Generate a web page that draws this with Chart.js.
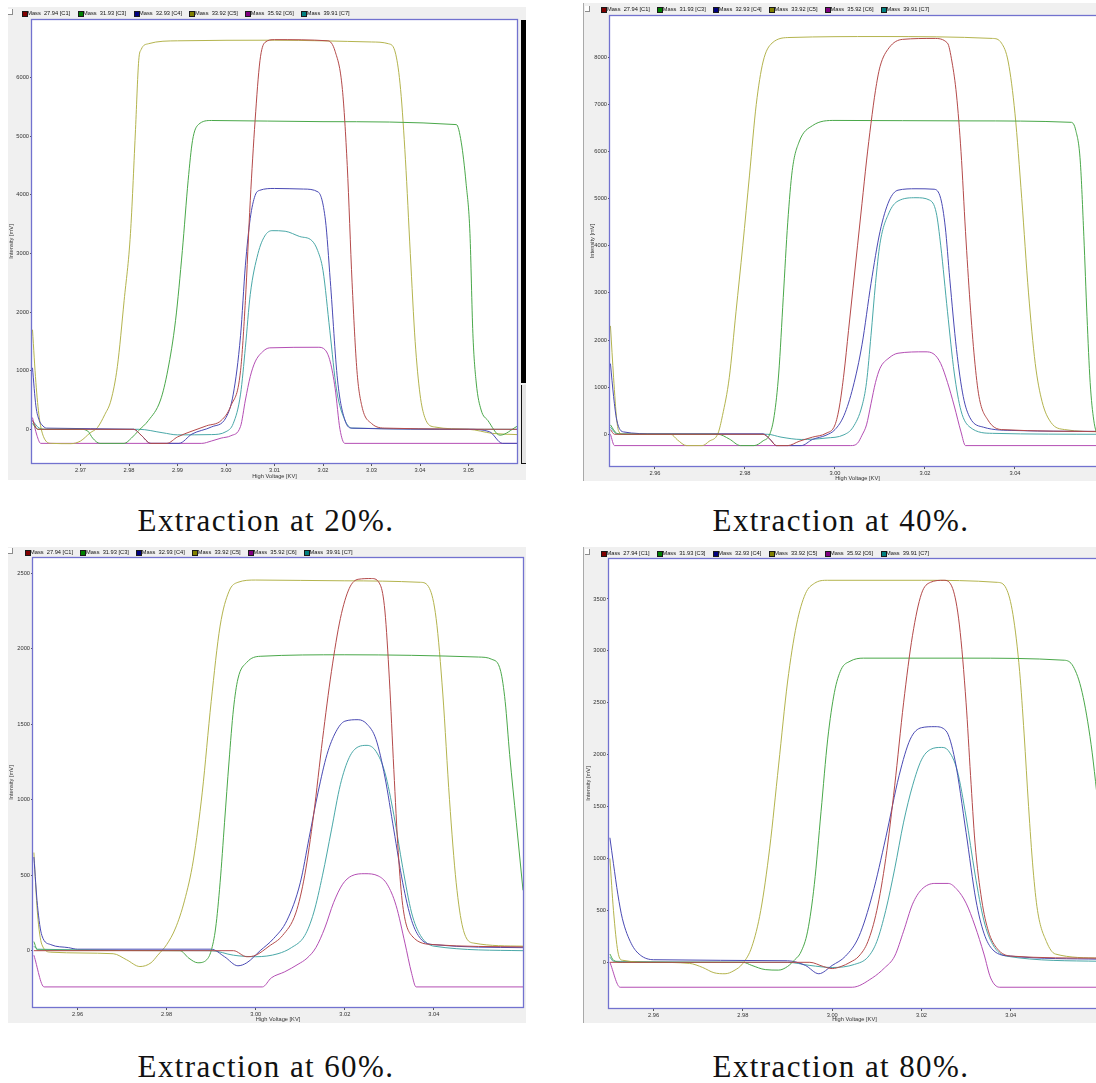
<!DOCTYPE html>
<html>
<head>
<meta charset="utf-8">
<script src="https://cdn.jsdelivr.net/npm/chart.js@4.4.1/dist/chart.umd.min.js"></script>
<style>
  html, body { margin:0; padding:0; background:#fff; }
  body { width:1096px; height:1083px; overflow:hidden; position:relative; font-family:"Liberation Sans", Arial, sans-serif; }
  .panel { position:absolute; overflow:hidden; background:#f0f0f0; box-sizing:border-box; }
  .panel.edge { border-left:1px solid #a9a9a9; }
  .panel canvas { position:absolute; left:0; top:0; }
  .check { position:absolute; width:4px; height:5px; background:#fff; border-right:1px solid #8c8c8c; border-bottom:1px solid #8c8c8c; }
  .item { position:absolute; height:6px; line-height:6px; font-size:5.7px; color:#111; white-space:pre; }
  .item i { position:absolute; left:0; top:0.5px; width:4px; height:4px; border:0.6px solid #1a1a1a; }
  .item span { position:absolute; left:5.5px; top:0; }
  .caption { position:absolute; font-family:"Liberation Serif", "Times New Roman", serif; font-size:31px; line-height:31px; letter-spacing:1.4px; color:#111; white-space:nowrap; transform:translateX(-50%); }
  .scroll { position:absolute; background:#000; }
  .scrollbox { position:absolute; background:#e4e4e4; border-left:1.5px solid #111; border-bottom:1px solid #111; box-sizing:border-box; }
</style>
</head>
<body>
<script>
// ---- legend / series identity ----
const seriesNames = ['Mass  27.94 [C1]', 'Mass  31.93 [C3]', 'Mass  32.93 [C4]', 'Mass  33.92 [C5]', 'Mass  35.92 [C6]', 'Mass  39.91 [C7]'];
const swatchColors = ['#800000', '#008000', '#000080', '#808000', '#800080', '#008080'];
const traceColors  = ['#b44a4a', '#4aa84a', '#4a4ab4', '#b4b44e', '#b44eb4', '#4aa8a8'];
const captions = ['Extraction at 20%.', 'Extraction at 40%.', 'Extraction at 60%.', 'Extraction at 80%.'];

// ---- tick labels ----
const xTicks20 = [2.97, 2.98, 2.99, 3.00, 3.01, 3.02, 3.03, 3.04, 3.05];
const xTicksWide = [2.96, 2.98, 3.00, 3.02, 3.04];
const yTicks20 = [0, 1000, 2000, 3000, 4000, 5000, 6000];
const yTicks40 = [0, 1000, 2000, 3000, 4000, 5000, 6000, 7000, 8000];
const yTicks60 = [0, 500, 1000, 1500, 2000, 2500];
const yTicks80 = [0, 500, 1000, 1500, 2000, 2500, 3000, 3500];

// ---- traces: [high voltage kV, intensity mV] ----
// extraction 20 %
const c1At20 = [[2.9601,150],[2.9612,0],[2.981,0],[2.9825,-100],[2.9845,-240],[2.9878,-240],[2.990,-130],[2.993,-30],[2.996,60],[2.999,150],[3.001,400],[3.003,1000],[3.004,2200],[3.005,3900],[3.006,5270],[3.007,6290],[3.008,6600],[3.010,6650],[3.021,6630],[3.0225,6450],[3.024,5800],[3.025,4500],[3.026,2500],[3.027,1000],[3.028,400],[3.030,100],[3.033,20],[3.06,0]];
const c3At20 = [[2.9601,100],[2.9612,0],[2.970,0],[2.9715,-30],[2.9725,-150],[2.974,-240],[2.979,-240],[2.9805,-150],[2.982,-20],[2.984,150],[2.9865,500],[2.988,1010],[2.9896,1860],[2.991,3050],[2.9922,4250],[2.9931,4930],[2.9943,5200],[2.997,5270],[3.02,5250],[3.0475,5200],[3.0485,4900],[3.0495,4200],[3.0503,3340],[3.0509,1640],[3.0516,790],[3.0526,330],[3.054,150],[3.0565,-100],[3.06,50]];
const c4At20 = [[2.9601,1050],[2.9608,400],[2.9615,150],[2.962,80],[2.963,20],[2.981,0],[2.9825,-100],[2.9845,-240],[2.9903,-240],[2.993,-80],[2.997,40],[3.000,200],[3.0015,600],[3.003,1600],[3.004,2800],[3.005,3600],[3.006,3990],[3.007,4080],[3.010,4110],[3.016,4100],[3.019,4050],[3.0205,3570],[3.0215,2540],[3.023,840],[3.0245,160],[3.026,20],[3.050,0],[3.0543,-40],[3.057,-240],[3.06,-240]];
const c5At20 = [[2.9601,1700],[2.9608,800],[2.9615,200],[2.9625,-150],[2.964,-240],[2.968,-245],[2.970,-200],[2.972,-60],[2.9735,30],[2.975,250],[2.9763,500],[2.9776,1070],[2.979,2200],[2.9803,3340],[2.9813,5040],[2.982,6290],[2.9825,6480],[2.984,6580],[2.990,6630],[3.010,6640],[3.030,6610],[3.0335,6580],[3.035,6400],[3.036,5800],[3.037,4600],[3.038,3000],[3.039,1500],[3.040,600],[3.041,200],[3.043,40],[3.050,0],[3.055,-70],[3.06,-90]];
const c6At20 = [[2.9601,200],[2.961,-100],[2.9618,-240],[2.995,-240],[2.997,-200],[2.999,-150],[3.001,-110],[3.003,50],[3.004,500],[3.005,900],[3.006,1150],[3.0075,1320],[3.009,1390],[3.019,1400],[3.0205,1350],[3.0215,1150],[3.0225,700],[3.0235,0],[3.0245,-240],[3.06,-240]];
const c7At20 = [[2.9601,150],[2.9615,20],[2.963,0],[2.982,0],[2.987,-60],[2.990,-95],[2.997,-90],[3.000,-40],[3.0015,100],[3.003,600],[3.004,1400],[3.005,2300],[3.0066,3000],[3.008,3300],[3.0095,3390],[3.0122,3380],[3.0152,3290],[3.0177,3220],[3.0189,3050],[3.020,2710],[3.0214,1690],[3.0228,670],[3.0245,160],[3.026,20],[3.06,0]];

// extraction 40 %
const c1At40 = [[2.9501,100],[2.951,0],[2.984,0],[2.9855,-100],[2.987,-240],[2.9895,-240],[2.992,-150],[2.995,-60],[2.998,20],[3.000,200],[3.001,600],[3.002,1300],[3.003,2200],[3.004,3100],[3.005,4000],[3.006,4900],[3.007,5800],[3.008,6600],[3.009,7300],[3.010,7800],[3.012,8200],[3.015,8380],[3.022,8400],[3.025,8300],[3.026,7900],[3.027,7200],[3.028,6000],[3.029,4300],[3.030,2800],[3.031,1600],[3.032,800],[3.034,300],[3.037,100],[3.06,60]];
const c3At40 = [[2.9501,200],[2.9515,20],[2.953,0],[2.974,0],[2.9765,-100],[2.979,-240],[2.982,-240],[2.984,-140],[2.9855,0],[2.9865,400],[2.9875,1300],[2.9885,2900],[2.9895,4500],[2.9905,5600],[2.992,6200],[2.995,6550],[3.000,6660],[3.030,6650],[3.0525,6620],[3.0535,6450],[3.0545,5800],[3.0553,4200],[3.056,2500],[3.0567,1100],[3.0575,300],[3.0585,-60],[3.06,-230]];
const c4At40 = [[2.9501,1500],[2.9508,800],[2.9515,300],[2.953,50],[2.960,10],[2.984,10],[2.9855,-100],[2.987,-240],[2.9925,-240],[2.995,-110],[2.998,-20],[3.000,100],[3.002,400],[3.004,1000],[3.006,1900],[3.008,3200],[3.010,4300],[3.012,4950],[3.014,5180],[3.018,5210],[3.022,5200],[3.0235,5000],[3.0245,4400],[3.0255,3300],[3.027,1800],[3.0285,800],[3.030,350],[3.033,150],[3.040,80],[3.06,60]];
const c5At40 = [[2.9501,2300],[2.9508,1200],[2.9515,300],[2.952,50],[2.953,0],[2.9635,0],[2.965,-120],[2.967,-240],[2.9705,-240],[2.972,-150],[2.974,20],[2.975,400],[2.9765,1200],[2.978,2600],[2.9795,4000],[2.981,5500],[2.9825,7000],[2.984,7900],[2.986,8300],[2.990,8420],[3.010,8440],[3.035,8400],[3.037,8300],[3.0385,7900],[3.040,6800],[3.0415,5000],[3.043,3000],[3.0445,1500],[3.046,700],[3.048,250],[3.051,100],[3.06,50]];
const c6At40 = [[2.9501,0],[2.951,-240],[3.0035,-240],[3.005,-190],[3.006,-20],[3.007,200],[3.008,650],[3.009,1100],[3.010,1400],[3.012,1620],[3.014,1720],[3.020,1750],[3.022,1700],[3.0235,1500],[3.025,1100],[3.0265,600],[3.028,50],[3.029,-240],[3.06,-240]];
const c7At40 = [[2.9501,150],[2.9515,10],[2.985,0],[2.988,-60],[2.9925,-110],[2.998,-80],[3.002,-10],[3.004,150],[3.006,600],[3.007,1100],[3.008,2100],[3.009,3200],[3.010,4050],[3.012,4700],[3.014,4950],[3.018,5020],[3.021,4970],[3.0225,4700],[3.0235,4000],[3.025,2600],[3.0265,1300],[3.028,500],[3.030,150],[3.035,20],[3.06,0]];

// extraction 60 %
const c1At60 = [[2.9502,0],[2.995,0],[2.998,-40],[3.000,-30],[3.003,30],[3.006,100],[3.009,250],[3.011,500],[3.013,900],[3.015,1400],[3.017,1850],[3.019,2200],[3.021,2400],[3.023,2460],[3.026,2465],[3.028,2420],[3.029,2250],[3.030,1800],[3.031,1200],[3.032,650],[3.033,300],[3.035,100],[3.040,40],[3.06,25]];
const c3At60 = [[2.9502,60],[2.951,5],[2.983,0],[2.985,-50],[2.987,-80],[2.989,-60],[2.990,0],[2.991,150],[2.992,450],[2.993,850],[2.994,1250],[2.995,1600],[2.996,1800],[2.998,1910],[3.001,1950],[3.020,1960],[3.050,1945],[3.053,1930],[3.055,1850],[3.056,1650],[3.057,1300],[3.0585,850],[3.06,400]];
const c4At60 = [[2.9502,620],[2.951,300],[2.952,100],[2.954,40],[2.958,20],[2.960,10],[2.990,10],[2.993,-40],[2.996,-100],[2.998,-80],[3.001,0],[3.004,80],[3.007,200],[3.010,450],[3.012,750],[3.014,1050],[3.016,1300],[3.018,1450],[3.020,1520],[3.023,1530],[3.025,1500],[3.027,1400],[3.029,1150],[3.031,800],[3.033,450],[3.035,200],[3.037,80],[3.040,40],[3.06,20]];
const c5At60 = [[2.9502,650],[2.951,250],[2.952,40],[2.954,-10],[2.968,-20],[2.971,-60],[2.974,-105],[2.9765,-80],[2.978,-30],[2.980,40],[2.982,150],[2.984,330],[2.986,600],[2.988,1050],[2.990,1650],[2.992,2150],[2.994,2380],[2.996,2440],[3.000,2455],[3.020,2450],[3.037,2440],[3.039,2400],[3.0405,2200],[3.042,1700],[3.0435,1000],[3.045,450],[3.0465,150],[3.049,50],[3.06,30]];
const c6At60 = [[2.9502,-30],[2.9525,-240],[3.0015,-240],[3.0035,-180],[3.0065,-140],[3.0095,-90],[3.0115,-50],[3.0135,20],[3.0155,150],[3.0175,320],[3.0195,440],[3.0215,495],[3.0245,510],[3.0275,495],[3.0295,440],[3.0315,300],[3.0335,50],[3.035,-150],[3.036,-240],[3.06,-240]];
const c7At60 = [[2.9502,30],[2.951,10],[2.990,0],[2.995,-30],[3.000,-40],[3.005,-20],[3.008,20],[3.011,100],[3.013,250],[3.015,500],[3.017,800],[3.019,1100],[3.021,1280],[3.023,1350],[3.025,1360],[3.027,1320],[3.029,1180],[3.031,900],[3.033,550],[3.035,250],[3.037,100],[3.040,30],[3.06,0]];

// extraction 80 %
const c1At80 = [[2.9502,0],[2.995,0],[2.998,-40],[3.000,-60],[3.002,-40],[3.004,0],[3.006,60],[3.008,200],[3.010,500],[3.012,1000],[3.014,1700],[3.016,2500],[3.018,3150],[3.020,3550],[3.022,3660],[3.025,3680],[3.027,3600],[3.0285,3250],[3.030,2500],[3.031,1800],[3.032,1150],[3.0335,600],[3.035,300],[3.037,130],[3.040,60],[3.06,40]];
const c3At80 = [[2.9502,80],[2.951,20],[2.953,0],[2.980,0],[2.982,-30],[2.985,-70],[2.988,-75],[2.990,-40],[2.9915,20],[2.993,100],[2.9945,300],[2.996,750],[2.9975,1450],[2.999,2150],[3.0005,2600],[3.002,2820],[3.004,2900],[3.007,2930],[3.030,2930],[3.052,2910],[3.054,2850],[3.056,2600],[3.058,2100],[3.06,1350]];
const c4At80 = [[2.9502,1200],[2.951,950],[2.952,650],[2.953,420],[2.955,180],[2.957,70],[2.960,25],[2.990,15],[2.994,-30],[2.997,-110],[3.000,-30],[3.003,60],[3.006,250],[3.009,650],[3.012,1200],[3.015,1800],[3.0175,2150],[3.020,2260],[3.023,2270],[3.0255,2230],[3.0275,1950],[3.030,1250],[3.0322,600],[3.034,280],[3.036,120],[3.040,60],[3.06,30]];
const c5At80 = [[2.9502,1000],[2.951,500],[2.952,100],[2.953,20],[2.960,0],[2.968,-10],[2.971,-50],[2.9735,-100],[2.976,-110],[2.978,-80],[2.980,-10],[2.982,150],[2.984,500],[2.986,1100],[2.988,1900],[2.990,2700],[2.992,3250],[2.994,3550],[2.996,3650],[2.999,3680],[3.020,3680],[3.037,3660],[3.039,3600],[3.0405,3350],[3.042,2800],[3.043,2200],[3.044,1500],[3.045,900],[3.046,500],[3.048,200],[3.050,80],[3.06,40]];
const c6At80 = [[2.9502,0],[2.9525,-240],[3.0045,-240],[3.009,-150],[3.0117,-55],[3.014,60],[3.016,300],[3.018,560],[3.020,700],[3.023,760],[3.026,760],[3.028,700],[3.030,570],[3.032,350],[3.034,80],[3.0355,-150],[3.0375,-240],[3.06,-240]];
const c7At80 = [[2.9502,50],[2.951,10],[2.990,0],[2.995,-30],[3.000,-50],[3.005,-20],[3.008,50],[3.010,200],[3.012,500],[3.014,900],[3.016,1350],[3.018,1700],[3.020,1950],[3.022,2050],[3.0245,2070],[3.026,2040],[3.028,1850],[3.030,1400],[3.032,850],[3.034,400],[3.036,170],[3.039,60],[3.06,10]];

// ---- panel geometry (page pixels) ----
const panels = [
  { traces:[c1At20,c3At20,c4At20,c5At20,c6At20,c7At20], xMin:2.96, xMax:3.06, yMin:-575, yMax:6985, xTicks:xTicks20, yTicks:yTicks20,
    box:{left:8, top:7, width:518, height:473}, edge:false, cw:518, ch:473, pad:{left:0, top:13, right:9, bottom:0}, yW:24, xH:17, yTitlePad:0,
    check:{x:0, y:2}, legendX:13.7, legendY:3.3, legendDx:55.9, caption:{x:266, top:505} },
  { traces:[c1At40,c3At40,c4At40,c5At40,c6At40,c7At40], xMin:2.95, xMax:3.06, yMin:-673, yMax:8876, xTicks:xTicksWide, yTicks:yTicks40,
    box:{left:583, top:3, width:513, height:478}, edge:true, cw:530, ch:490, pad:{left:0, top:13, right:9, bottom:11}, yW:26, xH:16, yTitlePad:5,
    check:{x:1, y:3}, legendX:17.4, legendY:3.3, legendDx:55.9, caption:{x:841, top:505} },
  { traces:[c1At60,c3At60,c4At60,c5At60,c6At60,c7At60], xMin:2.95, xMax:3.06, yMin:-373, yMax:2601, xTicks:xTicksWide, yTicks:yTicks60,
    box:{left:8, top:547, width:518, height:476}, edge:false, cw:518, ch:476, pad:{left:0, top:11, right:3, bottom:0}, yW:25, xH:16, yTitlePad:0,
    check:{x:0, y:1}, legendX:16.5, legendY:2.4, legendDx:55.9, caption:{x:266, top:1051} },
  { traces:[c1At80,c3At80,c4At80,c5At80,c6At80,c7At80], xMin:2.95, xMax:3.06, yMin:-440, yMax:3885, xTicks:xTicksWide, yTicks:yTicks80,
    box:{left:583, top:547, width:513, height:476}, edge:true, cw:530, ch:476, pad:{left:0, top:12, right:14, bottom:0}, yW:25, xH:15, yTitlePad:1,
    check:{x:1, y:2}, legendX:17, legendY:3, legendDx:55.9, caption:{x:841, top:1051} }
];

const tickFont = { family:'"Liberation Sans", Arial, sans-serif', size:5.7 };

// white plotting field and the blue frame around it
const framePlugin = {
  id: 'frame',
  beforeDraw(chart) {
    const a = chart.chartArea, c = chart.ctx;
    c.save(); c.fillStyle = '#ffffff'; c.fillRect(a.left, a.top, a.right - a.left, a.bottom - a.top); c.restore();
  },
  afterDatasetsDraw(chart) {
    const a = chart.chartArea, c = chart.ctx;
    c.save(); c.strokeStyle = '#7272cf'; c.lineWidth = 1.3;
    c.strokeRect(a.left - 0.5, a.top - 0.5, a.right - a.left + 1, a.bottom - a.top + 1);
    c.restore();
  }
};

panels.forEach((p, pi) => {
  const box = document.createElement('div');
  box.className = 'panel' + (p.edge ? ' edge' : '');
  Object.assign(box.style, { left:p.box.left + 'px', top:p.box.top + 'px', width:p.box.width + 'px', height:p.box.height + 'px' });
  document.body.appendChild(box);

  const cv = document.createElement('canvas');
  cv.width = p.cw; cv.height = p.ch;
  cv.style.width = p.cw + 'px'; cv.style.height = p.ch + 'px';
  box.appendChild(cv);

  // legend strip
  const chk = document.createElement('div');
  chk.className = 'check';
  chk.style.left = p.check.x + 'px'; chk.style.top = p.check.y + 'px';
  box.appendChild(chk);
  seriesNames.forEach((name, i) => {
    const it = document.createElement('div');
    it.className = 'item';
    it.style.left = (p.legendX + i * p.legendDx) + 'px';
    it.style.top = p.legendY + 'px';
    const sw = document.createElement('i'); sw.style.background = swatchColors[i];
    const tx = document.createElement('span'); tx.textContent = name;
    it.appendChild(sw); it.appendChild(tx);
    box.appendChild(it);
  });

  const cap = document.createElement('div');
  cap.className = 'caption';
  cap.style.left = p.caption.x + 'px'; cap.style.top = p.caption.top + 'px';
  cap.textContent = captions[pi];
  document.body.appendChild(cap);

  new Chart(cv.getContext('2d'), {
    type: 'line',
    data: {
      datasets: p.traces.map((tr, i) => ({
        label: seriesNames[i],
        data: tr.map(([x, y]) => ({ x, y })),
        borderColor: traceColors[i],
        borderWidth: 1,
        pointRadius: 0,
        fill: false,
        cubicInterpolationMode: 'monotone'
      }))
    },
    options: {
      responsive: false,
      animation: false,
      events: [],
      layout: { padding: p.pad },
      plugins: { legend: { display:false }, tooltip: { enabled:false } },
      scales: {
        x: {
          type: 'linear', min: p.xMin, max: p.xMax,
          afterBuildTicks: s => { s.ticks = p.xTicks.map(v => ({ value:v })); },
          afterFit: s => { s.height = p.xH; },
          ticks: { autoSkip:false, maxRotation:0, padding:1, color:'#333', font:tickFont, callback: v => Number(v).toFixed(2) },
          grid: { drawOnChartArea:false, drawTicks:true, tickLength:3, color:'#555' },
          border: { display:false },
          title: { display:true, text:'High Voltage [KV]', color:'#333', font:tickFont, padding:{ top:1, bottom:0 } }
        },
        y: {
          type: 'linear', min: p.yMin, max: p.yMax,
          afterBuildTicks: s => { s.ticks = p.yTicks.map(v => ({ value:v })); },
          afterFit: s => { s.width = p.yW; },
          ticks: { autoSkip:false, padding:1, color:'#333', font:tickFont, callback: v => String(v) },
          grid: { drawOnChartArea:false, drawTicks:true, tickLength:2, color:'#555' },
          border: { display:false },
          title: { display:true, text:'Intensity [mV]', color:'#333', font:tickFont, padding:{ top:p.yTitlePad, bottom:0 } }
        }
      }
    },
    plugins: [framePlugin]
  });
});

// scroll bar at the right side of the first panel
const bar = document.createElement('div');
bar.className = 'scroll';
Object.assign(bar.style, { left:'521px', top:'20px', width:'5px', height:'363px' });
document.body.appendChild(bar);
const sb = document.createElement('div');
sb.className = 'scrollbox';
Object.assign(sb.style, { left:'521px', top:'385px', width:'5px', height:'79px' });
document.body.appendChild(sb);
</script>
</body>
</html>
